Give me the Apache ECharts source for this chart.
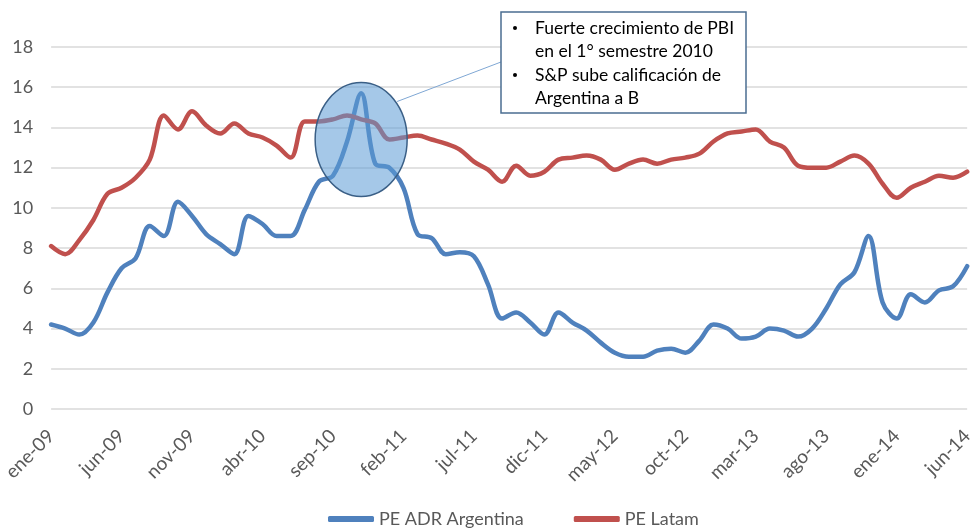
<!DOCTYPE html>
<html>
<head>
<meta charset="utf-8">
<script src="https://cdn.jsdelivr.net/npm/echarts@6/dist/echarts.min.js"></script>
<style>
  html, body { margin: 0; padding: 0; background: #fff; }
  #main { width: 976px; height: 528px; }
</style>
</head>
<body>
<div id="main"></div>
<script>
// meses ene-09 .. jun-14
const monthNames = ['ene', 'feb', 'mar', 'abr', 'may', 'jun', 'jul', 'ago', 'sep', 'oct', 'nov', 'dic'];
const years = ['09', '10', '11', '12', '13', '14'];
const categories = [];
years.forEach(y => monthNames.forEach(m => categories.push(m + '-' + y)));
categories.length = 66;

const seriesNames = ['PE ADR Argentina', 'PE Latam'];

const peAdrArgentina = [
  4.2, 4.0, 3.7, 4.3, 5.8, 7.0, 7.5, 9.1, 8.6, 10.3,
  9.6, 8.7, 8.2, 7.7, 9.6, 9.2, 8.6, 8.6, 9.9, 11.3,
  11.6, 13.3, 15.7, 12.2, 12.0, 11.0, 8.7, 8.5, 7.7, 7.8,
  7.6, 6.2, 4.5, 4.8, 4.3, 3.7, 4.8, 4.3, 3.9, 3.3,
  2.8, 2.6, 2.6, 2.9, 3.0, 2.8, 3.4, 4.2, 4.0, 3.5,
  3.6, 4.0, 3.9, 3.6, 4.0, 5.0, 6.2, 6.8, 8.6, 5.3,
  4.5, 5.7, 5.3, 5.9, 6.1, 7.1
];

const peLatam = [
  8.1, 7.7, 8.4, 9.4, 10.7, 11.0, 11.5, 12.4, 14.6, 13.9,
  14.8, 14.1, 13.7, 14.2, 13.7, 13.5, 13.1, 12.5, 14.3, 14.3,
  14.4, 14.6, 14.4, 14.2, 13.4, 13.5, 13.6, 13.4, 13.2, 12.9,
  12.3, 11.9, 11.3, 12.1, 11.6, 11.8, 12.4, 12.5, 12.6, 12.4,
  11.9, 12.2, 12.4, 12.2, 12.4, 12.5, 12.7, 13.3, 13.7, 13.8,
  13.9, 13.3, 13.0, 12.1, 12.0, 12.0, 12.3, 12.6, 12.2, 11.2,
  10.5, 11.0, 11.3, 11.6, 11.5, 11.8
];

const noteLines = [
  'Fuerte crecimiento de PBI',
  'en el 1° semestre 2010',
  'S&P sube calificación de',
  'Argentina a B'
];

const font = 'Lato, Carlito, "Liberation Sans", sans-serif';

const chart = echarts.init(document.getElementById('main'));

const option = {
  animation: false,
  textStyle: { fontFamily: font },
  grid: { left: 50, right: 1, top: 47, bottom: 119, containLabel: false },
  legend: {
    top: 510,
    left: 328,
    padding: 0,
    icon: 'roundRect',
    itemWidth: 46,
    itemHeight: 6,
    itemGap: 50,
    textStyle: { fontSize: 18, color: '#595959', fontFamily: font },
    data: seriesNames
  },
  xAxis: {
    type: 'category',
    data: categories,
    boundaryGap: false,
    axisLine: { show: false },
    axisTick: { show: false },
    axisLabel: {
      interval: 4,
      rotate: 45,
      margin: 24,
      fontSize: 19,
      color: '#595959',
      fontFamily: font
    }
  },
  yAxis: {
    type: 'value',
    min: 0,
    max: 18,
    interval: 2,
    axisLine: { show: false },
    axisTick: { show: false },
    axisLabel: { fontSize: 18, color: '#595959', margin: 18, fontFamily: font },
    splitLine: { lineStyle: { color: '#D9D9D9', width: 1.5 } }
  },
  series: [
    {
      name: seriesNames[0],
      type: 'line',
      data: peAdrArgentina,
      smooth: 0.35,
      showSymbol: false,
      itemStyle: { color: '#4F81BD' },
      lineStyle: { color: '#4F81BD', width: 4.5, cap: 'round', join: 'round' }
    },
    {
      name: seriesNames[1],
      type: 'line',
      data: peLatam,
      smooth: 0.35,
      showSymbol: false,
      itemStyle: { color: '#C0504D' },
      lineStyle: { color: '#C0504D', width: 4.5, cap: 'round', join: 'round' }
    }
  ]
};

chart.setOption(option);

// anotación: elipse sobre el pico + cuadro de texto
const center = chart.convertToPixel({ xAxisIndex: 0, yAxisIndex: 0 }, [21.9, 13.4]);
const rx = 46, ry = 57;
const box = { x: 501, y: 12, w: 245, h: 101 };

chart.setOption({
  graphic: [
    {
      type: 'line',
      z: 20,
      shape: { x1: center[0] + 36, y1: center[1] - 38, x2: box.x, y2: 62 },
      style: { stroke: '#7FA7D4', lineWidth: 1 }
    },
    {
      type: 'ellipse',
      z: 20,
      shape: { cx: center[0], cy: center[1], rx: rx, ry: ry },
      style: { fill: 'rgba(91,155,213,0.55)', stroke: '#3A5F86', lineWidth: 1.5 }
    },
    {
      type: 'rect',
      z: 20,
      shape: { x: box.x, y: box.y, width: box.w, height: box.h },
      style: { fill: '#fff', stroke: '#4B6E91', lineWidth: 1.5 }
    },
    ...noteLines.map((t, i) => ({
      type: 'text',
      z: 21,
      x: box.x + 34,
      y: 28 + i * 23.5,
      style: {
        text: t,
        fill: '#000',
        font: '17.5px ' + font,
        textVerticalAlign: 'middle'
      }
    })),
    ...[0, 2].map(i => ({
      type: 'circle',
      z: 21,
      shape: { cx: box.x + 14, cy: 28 + i * 23.5, r: 2 },
      style: { fill: '#000' }
    }))
  ]
});
</script>
</body>
</html>
